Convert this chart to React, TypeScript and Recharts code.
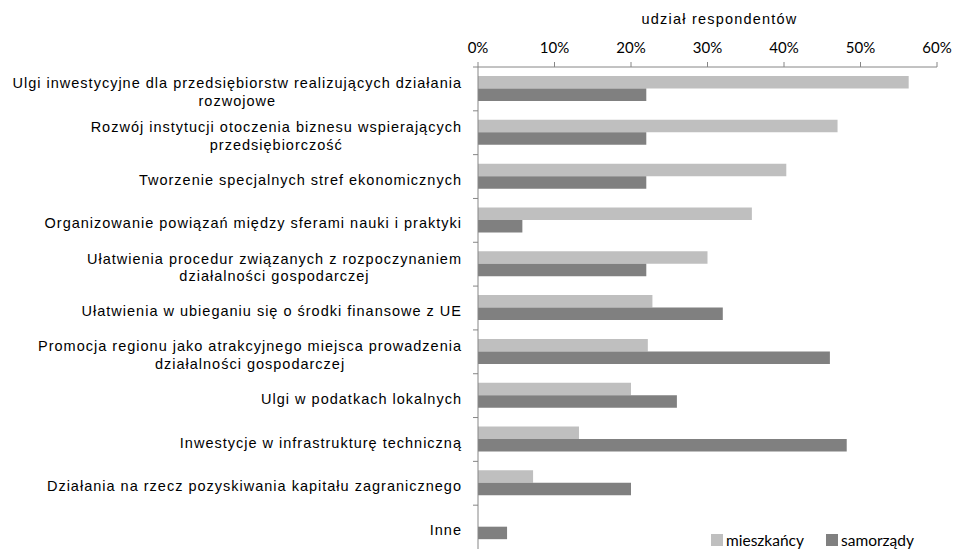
import React, { useLayoutEffect, useRef, useState } from "react";
import { Bar, BarChart, Legend, XAxis, YAxis } from "recharts";

const categories = [
  "Ulgi inwestycyjne dla przedsiębiorstw realizujących działania\nrozwojowe",
  "Rozwój instytucji otoczenia biznesu wspierających\nprzedsiębiorczość",
  "Tworzenie specjalnych stref ekonomicznych",
  "Organizowanie powiązań między sferami nauki i praktyki",
  "Ułatwienia procedur związanych z rozpoczynaniem\ndziałalności gospodarczej",
  "Ułatwienia w ubieganiu się o środki finansowe z UE",
  "Promocja regionu jako atrakcyjnego miejsca prowadzenia\ndziałalności gospodarczej",
  "Ulgi w podatkach lokalnych",
  "Inwestycje w infrastrukturę techniczną",
  "Działania na rzecz pozyskiwania kapitału zagranicznego",
  "Inne",
];

const mieszkancy = [56.3, 47.0, 40.3, 35.8, 30.0, 22.8, 22.2, 20.0, 13.2, 7.2, 0];
const samorzady = [22.0, 22.0, 22.0, 5.8, 22.0, 32.0, 46.0, 26.0, 48.2, 20.0, 3.8];

const xTicks = [0, 10, 20, 30, 40, 50, 60];
const seriesNames = { mieszkancy: "mieszkańcy", samorzady: "samorządy" };

const data = categories.map((name, i) => ({
  name,
  mieszkancy: mieszkancy[i],
  samorzady: samorzady[i],
}));

const W = 954;
const H = 549;
const TOP = 67;
const AXIS_W = 478;
const RIGHT = 17;
const BAND = (H - TOP) / categories.length;
const AXIS_COLOR = "#868686";
const LIGHT = "#bfbfbf";
const DARK = "#808080";
const LABEL_FONT = "Liberation Sans, Arial, sans-serif";

// label po lewej: pierwsza linia do prawej, druga wyśrodkowana pod nią
function CategoryTick(props: any) {
  const { x, y, payload } = props;
  const lines = String(payload.value).split("\n");
  const ref = useRef<SVGTextElement>(null);
  const [w, setW] = useState(0);
  useLayoutEffect(() => {
    if (ref.current) setW(ref.current.getBBox().width);
  }, [payload.value]);
  const lh = 17.5;
  const y0 = y + 3 - ((lines.length - 1) * lh) / 2;
  const axisX = x + 16;
  const textProps = { fill: "#000", fontSize: 14.5, fontFamily: LABEL_FONT, letterSpacing: 1.0 };
  return (
    <g>
      <line x1={axisX - 5} x2={axisX} y1={y - BAND / 2} y2={y - BAND / 2} stroke={AXIS_COLOR} />
      <text ref={ref} x={x} y={y0} dy="0.35em" textAnchor="end" {...textProps}>
        {lines[0]}
      </text>
      {lines.slice(1).map((l, i) => (
        <text key={i} x={x - w / 2} y={y0 + lh * (i + 1)} dy="0.35em" textAnchor="middle" {...textProps}>
          {l}
        </text>
      ))}
    </g>
  );
}

function LegendBox() {
  const items = [
    { label: seriesNames.mieszkancy, color: LIGHT },
    { label: seriesNames.samorzady, color: DARK },
  ];
  return (
    <div style={{ display: "flex", gap: 22, fontFamily: "Lato, sans-serif", fontSize: 15.5, color: "#000", lineHeight: "16px" }}>
      {items.map((it) => (
        <div key={it.label} style={{ display: "flex", alignItems: "center", gap: 3 }}>
          <span style={{ width: 12, height: 12, background: it.color, display: "inline-block" }} />
          <span>{it.label}</span>
        </div>
      ))}
    </div>
  );
}

export default function App() {
  return (
    <div style={{ position: "absolute", left: 0, top: 0, background: "#fff" }}>
      <BarChart
        width={W}
        height={H}
        data={data}
        layout="vertical"
        margin={{ top: 0, right: RIGHT, bottom: 0, left: 0 }}
        barGap={0}
      >
        <XAxis
          type="number"
          orientation="top"
          domain={[0, 60]}
          ticks={xTicks}
          tickFormatter={(v) => `${v}%`}
          height={TOP}
          tickSize={5}
          tickMargin={9}
          stroke={AXIS_COLOR}
          tick={{ fill: "#000", fontSize: 15, fontFamily: "Lato, sans-serif" }}
          label={{
            value: "udział respondentów",
            position: "insideTop",
            offset: 14,
            dx: 12,
            fill: "#000",
            fontSize: 14.5,
            fontFamily: LABEL_FONT,
            letterSpacing: 1.2,
          }}
        />
        <YAxis
          type="category"
          dataKey="name"
          width={AXIS_W}
          stroke={AXIS_COLOR}
          tickLine={false}
          tickSize={0}
          tickMargin={16}
          interval={0}
          tick={<CategoryTick />}
        />
        <Legend
          content={<LegendBox />}
          wrapperStyle={{ position: "absolute", left: 711, top: 532, width: "auto", height: 0, bottom: "auto", overflow: "visible" }}
        />
        <Bar dataKey="mieszkancy" name={seriesNames.mieszkancy} fill={LIGHT} barSize={12.5} isAnimationActive={false} />
        <Bar dataKey="samorzady" name={seriesNames.samorzady} fill={DARK} barSize={12.5} isAnimationActive={false} />
      </BarChart>
    </div>
  );
}
